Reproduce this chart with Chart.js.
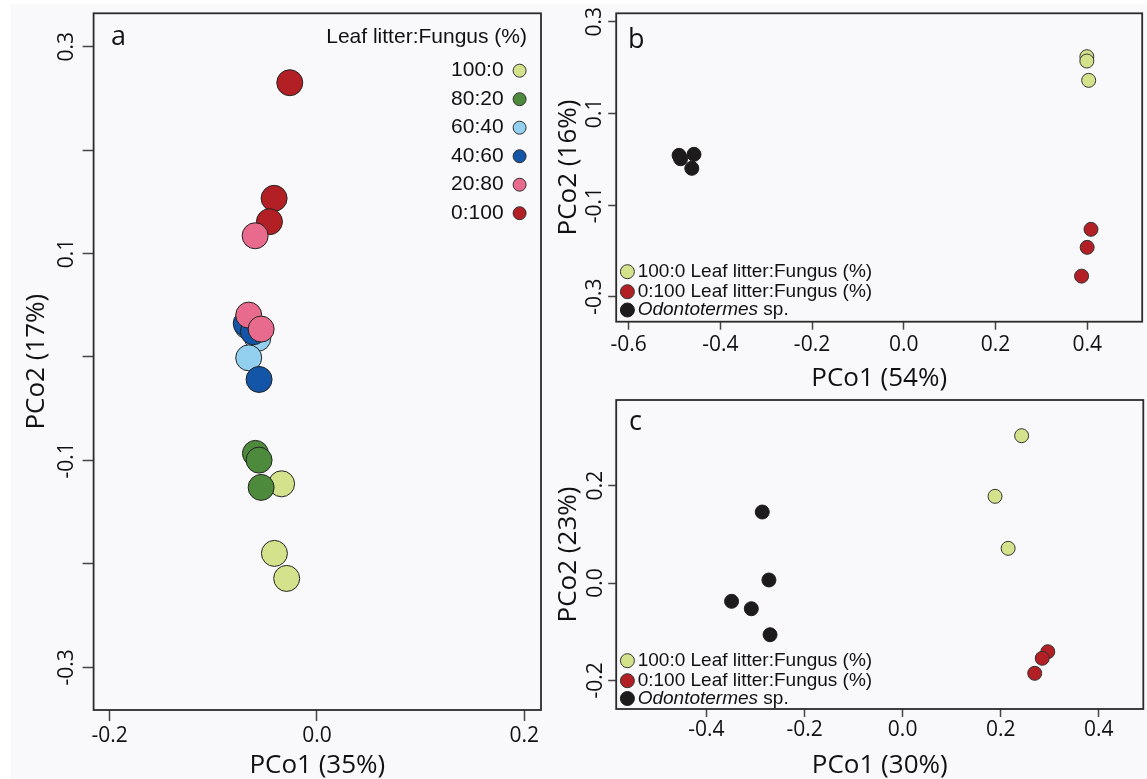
<!DOCTYPE html>
<html>
<head>
<meta charset="utf-8">
<script src="https://cdn.jsdelivr.net/npm/chart.js@4.4.0/dist/chart.umd.min.js"></script>
<style>
  html, body { margin: 0; padding: 0; width: 1147px; height: 779px; overflow: hidden; background: #fff; }
  #bg { position: absolute; left: 11px; top: 4px; right: 0; bottom: 0; background: #f9f9fb; }
  .panel { position: absolute; }
</style>
</head>
<body>
<div id="bg"></div>
<div class="panel" style="left:0;top:-40px;width:560px;height:821px"><canvas id="chartA"></canvas></div>
<div class="panel" style="left:545px;top:-40px;width:620px;height:434px"><canvas id="chartB"></canvas></div>
<div class="panel" style="left:545px;top:360px;width:620px;height:421px"><canvas id="chartC"></canvas></div>
<script>
// ---- panel a : six mixtures ----
const groupsA = ['100:0', '80:20', '60:40', '40:60', '20:80', '0:100'];
const a100_0_x = [-0.0341, -0.0410, -0.0292];
const a100_0_y = [-0.1226, -0.1899, -0.2141];
const a80_20_x = [-0.0593, -0.0558, -0.0538];
const a80_20_y = [-0.0932, -0.0997, -0.1261];
const a60_40_x = [-0.0670, -0.0571, -0.0658];
const a60_40_y = [0.0300, 0.0180, -0.0008];
const a40_60_x = [-0.0682, -0.0613, -0.0558];
const a40_60_y = [0.0325, 0.0244, -0.0217];
const a20_80_x = [-0.0596, -0.0658, -0.0538];
const a20_80_y = [0.1172, 0.0405, 0.0270];
const a0_100_x = [-0.0262, -0.0413, -0.0458];
const a0_100_y = [0.2652, 0.1534, 0.1308];

// ---- panel b ----
const b100_0_x = [0.3993, 0.3993, 0.4033];
const b100_0_y = [0.2236, 0.2142, 0.1720];
const b0_100_x = [0.4083, 0.4000, 0.3878];
const b0_100_y = [-0.1530, -0.1923, -0.2551];
const bOdo_x = [-0.4899, -0.4866, -0.4574, -0.4622];
const bOdo_y = [0.0084, 0.0010, 0.0106, -0.0199];

// ---- panel c ----
const c100_0_x = [0.2426, 0.1884, 0.2151];
const c100_0_y = [0.3025, 0.1780, 0.0712];
const c0_100_x = [0.2960, 0.2846, 0.2693];
const c0_100_y = [-0.1411, -0.1546, -0.1854];
const cOdo_x = [-0.2862, -0.2726, -0.3488, -0.3085, -0.2703];
const cOdo_y = [0.1458, 0.0062, -0.0376, -0.0528, -0.1062];

// ticks
const aXTicks = [-0.2, 0, 0.2];
const aXLabels = ['-0.2', '0.0', '0.2'];
const aYTicks = [-0.3, -0.2, -0.1, 0, 0.1, 0.2, 0.3];
const aYLabels = ['-0.3', '', '-0.1', '', '0.1', '', '0.3'];
const bXTicks = [-0.6, -0.4, -0.2, 0, 0.2, 0.4];
const bXLabels = ['-0.6', '-0.4', '-0.2', '0.0', '0.2', '0.4'];
const bYTicks = [-0.3, -0.1, 0.1, 0.3];
const bYLabels = ['-0.3', '-0.1', '0.1', '0.3'];
const cXTicks = [-0.4, -0.2, 0, 0.2, 0.4];
const cXLabels = ['-0.4', '-0.2', '0.0', '0.2', '0.4'];
const cYTicks = [-0.2, 0, 0.2];
const cYLabels = ['-0.2', '0.0', '0.2'];

const colLightGreen = '#d4e38b';
const colGreen = '#4e8a3b';
const colLightBlue = '#93cfee';
const colDarkBlue = '#1355a6';
const colPink = '#e86a8d';
const colRed = '#b22025';
const colBlack = '#1e1b1c';
const colorsA = [colLightGreen, colGreen, colLightBlue, colDarkBlue, colPink, colRed];

const fontAxis = '"Open Sans", sans-serif';
const fontLeg = '"Liberation Sans", Arial, sans-serif';

function dots(label, xs, ys, color, r, border) {
  return {
    label: label,
    data: xs.map((x, i) => ({ x: x, y: ys[i] })),
    backgroundColor: color,
    borderColor: border,
    pointRadius: r,
    pointHoverRadius: r,
    pointBorderWidth: 1
  };
}

function circle(ctx, x, y, r, fill, stroke) {
  ctx.beginPath();
  ctx.arc(x, y, r, 0, Math.PI * 2);
  ctx.fillStyle = fill;
  ctx.fill();
  ctx.lineWidth = 1;
  ctx.strokeStyle = stroke;
  ctx.stroke();
}

function makePanel(id, p) {
  const extras = {
    id: 'extras',
    afterDraw(chart) {
      const ctx = chart.ctx;
      const a = chart.chartArea;
      ctx.save();
      ctx.lineWidth = 1.8;
      ctx.strokeStyle = '#2b2b2b';
      ctx.strokeRect(a.left, a.top, a.right - a.left, a.bottom - a.top);
      ctx.fillStyle = '#111';
      ctx.font = '27px ' + fontAxis;
      ctx.textAlign = 'left';
      ctx.textBaseline = 'alphabetic';
      ctx.fillText(p.letter, a.left + p.letterDx, a.top + p.letterDy);
      p.legend(ctx, a);
      ctx.restore();
    }
  };

  // chart.js paints dataset 0 last, so the list is given top-most first
  new Chart(document.getElementById(id), {
    type: 'scatter',
    data: { datasets: p.datasets },
    options: {
      responsive: true,
      maintainAspectRatio: false,
      animation: false,
      events: [],
      layout: { padding: p.padding },
      plugins: { legend: { display: false }, tooltip: { enabled: false } },
      scales: {
        x: {
          type: 'linear', position: 'bottom', min: p.xMin, max: p.xMax,
          afterBuildTicks: s => { s.ticks = p.xTicks.map(v => ({ value: v })); },
          afterFit: s => { s.height = p.xAxisHeight; },
          ticks: {
            autoSkip: false, minRotation: 0, maxRotation: 0, padding: p.xTickPad,
            color: '#111', font: { family: fontAxis, size: 21 },
            callback: (v, i) => p.xLabels[i]
          },
          grid: { display: true, drawOnChartArea: false, drawTicks: true, tickLength: p.tickLen, tickColor: '#444', tickWidth: 1.5 },
          border: { display: false },
          title: { display: true, text: p.xTitle, color: '#111', font: { family: fontAxis, size: 26 }, padding: { top: 0, bottom: 0 } }
        },
        y: {
          type: 'linear', position: 'left', min: p.yMin, max: p.yMax,
          afterBuildTicks: s => { s.ticks = p.yTicks.map(v => ({ value: v })); },
          afterFit: s => { s.width = p.yAxisWidth; },
          ticks: {
            autoSkip: false, minRotation: 90, maxRotation: 90, crossAlign: 'center', padding: p.yTickPad,
            color: '#111', font: { family: fontAxis, size: 21 },
            callback: (v, i) => p.yLabels[i]
          },
          grid: { display: true, drawOnChartArea: false, drawTicks: true, tickLength: p.tickLen, tickColor: '#444', tickWidth: 1.5 },
          border: { display: false },
          title: { display: true, text: p.yTitle, color: '#111', font: { family: fontAxis, size: 26 }, padding: { top: p.yTitlePad, bottom: 0 } }
        }
      }
    },
    plugins: [extras]
  });
}

function legendBC(offsets) {
  return function (ctx, a) {
    const items = [
      { c: colLightGreen, it: '', t: '100:0 Leaf litter:Fungus (%)' },
      { c: colRed, it: '', t: '0:100 Leaf litter:Fungus (%)' },
      { c: colBlack, it: 'Odontotermes', t: ' sp.' }
    ];
    ctx.textAlign = 'left';
    ctx.textBaseline = 'middle';
    items.forEach((d, i) => {
      const y = a.bottom + offsets[i];
      circle(ctx, a.left + 11.2, y, 7, d.c, d.c === colBlack ? colBlack : '#333');
      let x = a.left + 21.5;
      ctx.fillStyle = '#111';
      if (d.it) {
        ctx.font = 'italic 19px ' + fontLeg;
        ctx.fillText(d.it, x, y);
        x += ctx.measureText(d.it).width;
      }
      ctx.font = '19px ' + fontLeg;
      ctx.fillText(d.t, x, y);
    });
  };
}

makePanel('chartA', {
  datasets: [
    dots('20:80', a20_80_x, a20_80_y, colPink, 13, '#222'),
    dots('0:100', a0_100_x, a0_100_y, colRed, 13, '#222'),
    dots('40:60', a40_60_x, a40_60_y, colDarkBlue, 13, '#222'),
    dots('60:40', a60_40_x, a60_40_y, colLightBlue, 13, '#222'),
    dots('80:20', a80_20_x, a80_20_y, colGreen, 13, '#222'),
    dots('100:0', a100_0_x, a100_0_y, colLightGreen, 13, '#222')
  ],
  xMin: -0.2154, xMax: 0.2161, yMin: -0.3413, yMax: 0.3323,
  xTicks: aXTicks, xLabels: aXLabels, yTicks: aYTicks, yLabels: aYLabels,
  padding: { top: 53.3, right: 19, left: 0, bottom: 0 },
  yAxisWidth: 93.6, xAxisHeight: 71, tickLen: 11, xTickPad: 2.4, yTickPad: -3, yTitlePad: 21,
  xTitle: 'PCo1 (35%)', yTitle: 'PCo2 (17%)',
  letter: 'a', letterDx: 17.4, letterDy: 31.7,
  legend: function (ctx, a) {
    ctx.fillStyle = '#111';
    ctx.font = '21px ' + fontLeg;
    ctx.textAlign = 'right';
    ctx.textBaseline = 'middle';
    ctx.fillText('Leaf litter:Fungus (%)', a.right - 14, a.top + 24.4);
    groupsA.forEach((g, i) => {
      const y = a.top + 57.4 + i * 28.5;
      ctx.fillStyle = '#111';
      ctx.fillText(g, a.right - 37.4, y);
      circle(ctx, a.right - 21.4, y, 6.5, colorsA[i], '#333');
    });
  }
});

makePanel('chartB', {
  datasets: [
    dots('0:100', b0_100_x, b0_100_y, colRed, 7, '#333'),
    dots('100:0', b100_0_x, b100_0_y, colLightGreen, 7, '#333'),
    dots('Odontotermes', bOdo_x, bOdo_y, colBlack, 7, colBlack)
  ],
  xMin: -0.627, xMax: 0.520, yMin: -0.3545, yMax: 0.3183,
  xTicks: bXTicks, xLabels: bXLabels, yTicks: bYTicks, yLabels: bYLabels,
  padding: { top: 53.3, right: 22.8, left: 0, bottom: 0 },
  yAxisWidth: 71.2, xAxisHeight: 72.3, tickLen: 8, xTickPad: 2.7, yTickPad: -5, yTitlePad: 8.4,
  xTitle: 'PCo1 (54%)', yTitle: 'PCo2 (16%)',
  letter: 'b', letterDx: 11.8, letterDy: 35,
  legend: legendBC([-50, -30, -11.7])
});

makePanel('chartC', {
  datasets: [
    dots('0:100', c0_100_x, c0_100_y, colRed, 7, '#333'),
    dots('100:0', c100_0_x, c100_0_y, colLightGreen, 7, '#333'),
    dots('Odontotermes', cOdo_x, cOdo_y, colBlack, 7, colBlack)
  ],
  xMin: -0.584, xMax: 0.4907, yMin: -0.2587, yMax: 0.3758,
  xTicks: cXTicks, xLabels: cXLabels, yTicks: cYTicks, yLabels: cYLabels,
  padding: { top: 40, right: 21.7, left: 0, bottom: 0 },
  yAxisWidth: 71.2, xAxisHeight: 72, tickLen: 8, xTickPad: 0.4, yTickPad: -5.6, yTitlePad: 8.4,
  xTitle: 'PCo1 (30%)', yTitle: 'PCo2 (23%)',
  letter: 'c', letterDx: 12.8, letterDy: 30,
  legend: legendBC([-48.3, -28.3, -10.5])
});
</script>
</body>
</html>
